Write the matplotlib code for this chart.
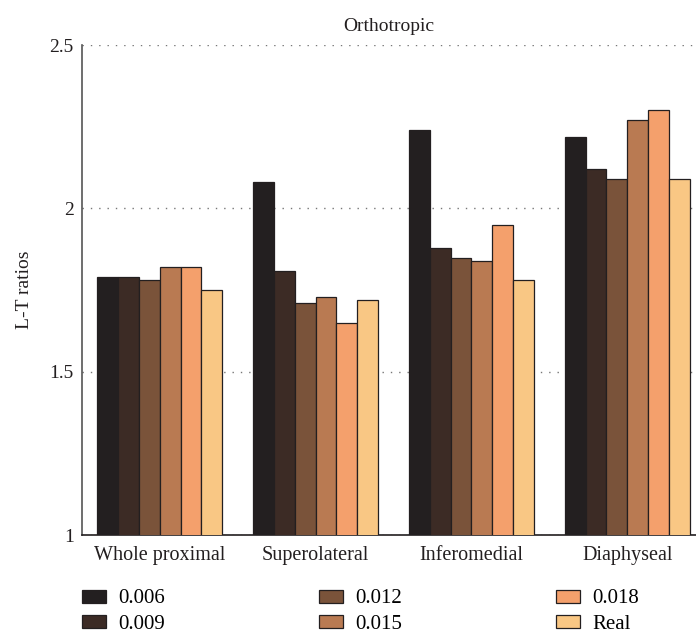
import numpy as np
import matplotlib
matplotlib.use("Agg")
import matplotlib.pyplot as plt

plt.rcParams['font.family'] = ['Liberation Serif', 'DejaVu Serif']

regions = ['Whole proximal', 'Superolateral', 'Inferomedial', 'Diaphyseal']
series = ['0.006', '0.009', '0.012', '0.015', '0.018', 'Real']
values = {
    '0.006': [1.79, 2.08, 2.24, 2.22],
    '0.009': [1.79, 1.81, 1.88, 2.12],
    '0.012': [1.78, 1.71, 1.85, 2.09],
    '0.015': [1.82, 1.73, 1.84, 2.27],
    '0.018': [1.82, 1.65, 1.95, 2.30],
    'Real': [1.75, 1.72, 1.78, 2.09],
}
colors = ['#231f20', '#3c2b25', '#7a533a', '#b97a52', '#f4a06c', '#f9c784']
yticks = [1, 1.5, 2, 2.5]
ytick_labels = ['1', '1.5', '2', '2.5']

fig = plt.figure(figsize=(6.96, 6.35), dpi=100)
ax = fig.add_axes([0.118, 0.157, 0.882, 0.772])

x = np.arange(len(regions))
width = 0.134
for i, (s, c) in enumerate(zip(series, colors)):
    offs = (i - (len(series) - 1) / 2) * width
    ax.bar(x + offs, values[s], width, bottom=0, color=c,
           edgecolor='#231f20', linewidth=0.9, label=s, zorder=3)

ax.set_ylim(1, 2.5)
ax.set_xlim(-0.497, 3.44)
ax.set_yticks(yticks)
ax.set_yticklabels(ytick_labels)
ax.set_xticks(x)
ax.set_xticklabels(regions)
ax.tick_params(axis='y', length=0, labelsize=14, colors='#231f20', pad=6)
ax.tick_params(axis='x', length=0, labelsize=14.5, colors='#231f20', pad=8)
ax.yaxis.grid(True, linestyle=(0, (1, 5)), color='#777777', linewidth=1.0)
ax.set_axisbelow(True)

for sp in ['top', 'right']:
    ax.spines[sp].set_visible(False)
ax.spines['left'].set_color('#555555')
ax.spines['left'].set_linewidth(1.2)
ax.spines['bottom'].set_color('#231f20')
ax.spines['bottom'].set_linewidth(1.2)

ax.set_title('Orthotropic', fontsize=14, color='#231f20', pad=10)
ax.set_ylabel('L-T ratios', fontsize=14, color='#231f20', labelpad=12)

fig.legend(loc='center left', bbox_to_anchor=(0.118, 0.037),
           ncol=3, frameon=False, fontsize=15, borderpad=0,
           handlelength=1.15, handleheight=0.58, handletextpad=0.58,
           labelspacing=0.3, columnspacing=7.4, borderaxespad=0)

fig.savefig('out.png', dpi=100)
